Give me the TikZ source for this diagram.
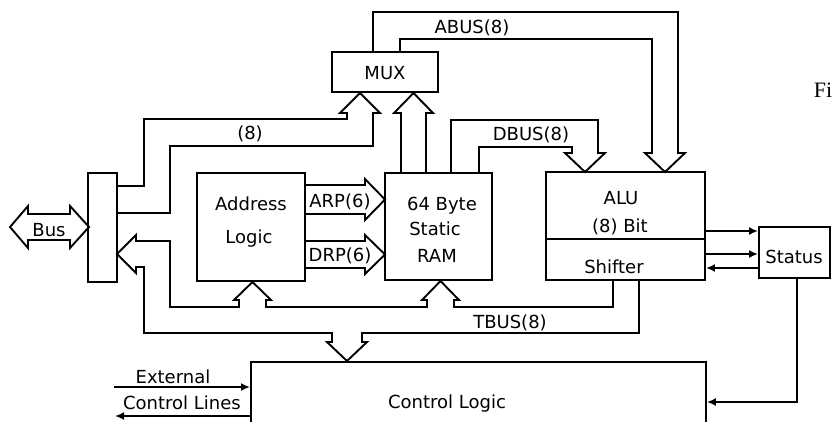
\documentclass[tikz,border=0pt]{standalone}
\usepackage{fontspec}
\setmainfont{DejaVu Sans}
\newfontfamily\figfont{Liberation Serif}
\usetikzlibrary{arrows.meta}
\begin{document}
\begin{tikzpicture}[x=1pt,y=-1pt, line width=1.9pt, line join=miter,
  box/.style={draw, rectangle, inner sep=0pt},
  lbl/.style={inner sep=0pt, anchor=base, font=\fontsize{18}{20}\selectfont},
  arr/.style={-{Latex[length=9pt,width=8pt]}},
  bus/.style={draw, line join=miter}]
\useasboundingbox (0,0) rectangle (833,421);

% boxes
\node[box, minimum width=29pt,  minimum height=109pt] (iface)  at (102.5,227.5) {};
\node[box, minimum width=106pt, minimum height=40pt]  (mux)    at (385,72) {};
\node[box, minimum width=108pt, minimum height=108pt] (addr)   at (251,227) {};
\node[box, minimum width=107pt, minimum height=107pt] (ram)    at (438.5,226.5) {};
\node[box, minimum width=159pt, minimum height=108pt] (alu)    at (625.5,226) {};
\node[box, minimum width=71pt,  minimum height=51pt]  (status) at (794.5,252.5) {};
\node[box, minimum width=455pt, minimum height=100pt, anchor=north west] (ctrl) at (250,361) {};
\draw (alu.west |- 0,239) -- (alu.east |- 0,239);

% labels
\node[lbl] at (385,79) {MUX};
\node[lbl] at (251,210) {Address};
\node[lbl] at (249,243) {Logic};
\node[lbl] at (442,210) {64 Byte};
\node[lbl] at (435,235) {Static};
\node[lbl] at (437,262) {RAM};
\node[lbl] at (621,204) {ALU};
\node[lbl] at (620,232) {(8) Bit};
\node[lbl] at (614,273) {Shifter};
\node[lbl] at (794,263) {Status};
\node[lbl] at (447,408) {Control Logic};
\node[lbl] at (173,383) {External};
\node[lbl] at (182,409) {Control Lines};
\node[lbl] at (49,236) {Bus};
\node[lbl] at (250,139) {(8)};
\node[lbl] at (472,33) {ABUS(8)};
\node[lbl] at (531,140) {DBUS(8)};
\node[lbl] at (510,328) {TBUS(8)};
\node[lbl] at (340,207) {ARP(6)};
\node[lbl] at (340,261) {DRP(6)};
\node[inner sep=0pt, anchor=base west, font=\figfont\fontsize{22}{24}\selectfont] (fig) at (813,97) {Fig};

% external bus double arrow
\draw[bus] (10,227) -- (28,206) -- (28,214) -- (70,214) -- (70,206) -- (89,227)
  -- (70,248) -- (70,240) -- (28,240) -- (28,248) -- cycle;

% (8) bus from interface to MUX
\draw[bus] (117,186) -- (144,186) -- (144,119) -- (347,119) -- (347,113) -- (340,113)
  -- (360,93) -- (380,113) -- (373,113) -- (373,146) -- (170,146) -- (170,213) -- (117,213);

% RAM to MUX
\draw[bus] (401,173) -- (401,113) -- (394,113) -- (413.5,93) -- (433,113) -- (426,113) -- (426,173);

% ABUS
\draw[bus] (373,52) -- (373,12) -- (678,12) -- (678,153) -- (685,153) -- (665,172)
  -- (645,153) -- (652,153) -- (652,39) -- (400,39) -- (400,52);

% DBUS
\draw[bus] (451,173) -- (451,120) -- (598,120) -- (598,153) -- (605,153) -- (585,172)
  -- (565,153) -- (572,153) -- (572,147) -- (479,147) -- (479,173);

% ARP / DRP
\draw[bus] (305,185) -- (365,185) -- (365,179) -- (385,199.5) -- (365,220) -- (365,214) -- (305,214);
\draw[bus] (305,241) -- (365,241) -- (365,235) -- (385,254.5) -- (365,274) -- (365,268) -- (305,268);

% TBUS
\draw[bus] (613,280) -- (613,307) -- (454,307) -- (454,300) -- (459,300) -- (440.5,281)
  -- (422,300) -- (427,300) -- (427,307) -- (266,307) -- (266,300) -- (271,300) -- (252.5,282)
  -- (234,300) -- (239,300) -- (239,307) -- (170,307) -- (170,241) -- (136,241) -- (136,235)
  -- (117,254) -- (136,273) -- (136,267) -- (144,267) -- (144,333) -- (332,333) -- (332,342)
  -- (327,342) -- (347,361) -- (367,342) -- (362,342) -- (362,333) -- (639,333) -- (639,280);

% ALU <-> Status
\coordinate (s1) at (0,231);
\coordinate (s2) at (0,254);
\coordinate (s3) at (0,268);
\draw[arr] (alu.east |- s1) -- (status.west |- s1);
\draw[arr] (alu.east |- s2) -- (status.west |- s2);
\draw[arr] (status.west |- s3) -- (alu.east |- s3);

% Status to Control Logic
\coordinate (c1) at (797,402);
\draw[arr] (status.south -| c1) -- (c1) -- (ctrl.east |- c1);

% External control lines
\coordinate (e1) at (114,387);
\coordinate (e2) at (115,416);
\draw[arr] (e1) -- (ctrl.west |- e1);
\draw[arr] (ctrl.west |- e2) -- (e2);
\end{tikzpicture}
\end{document}
